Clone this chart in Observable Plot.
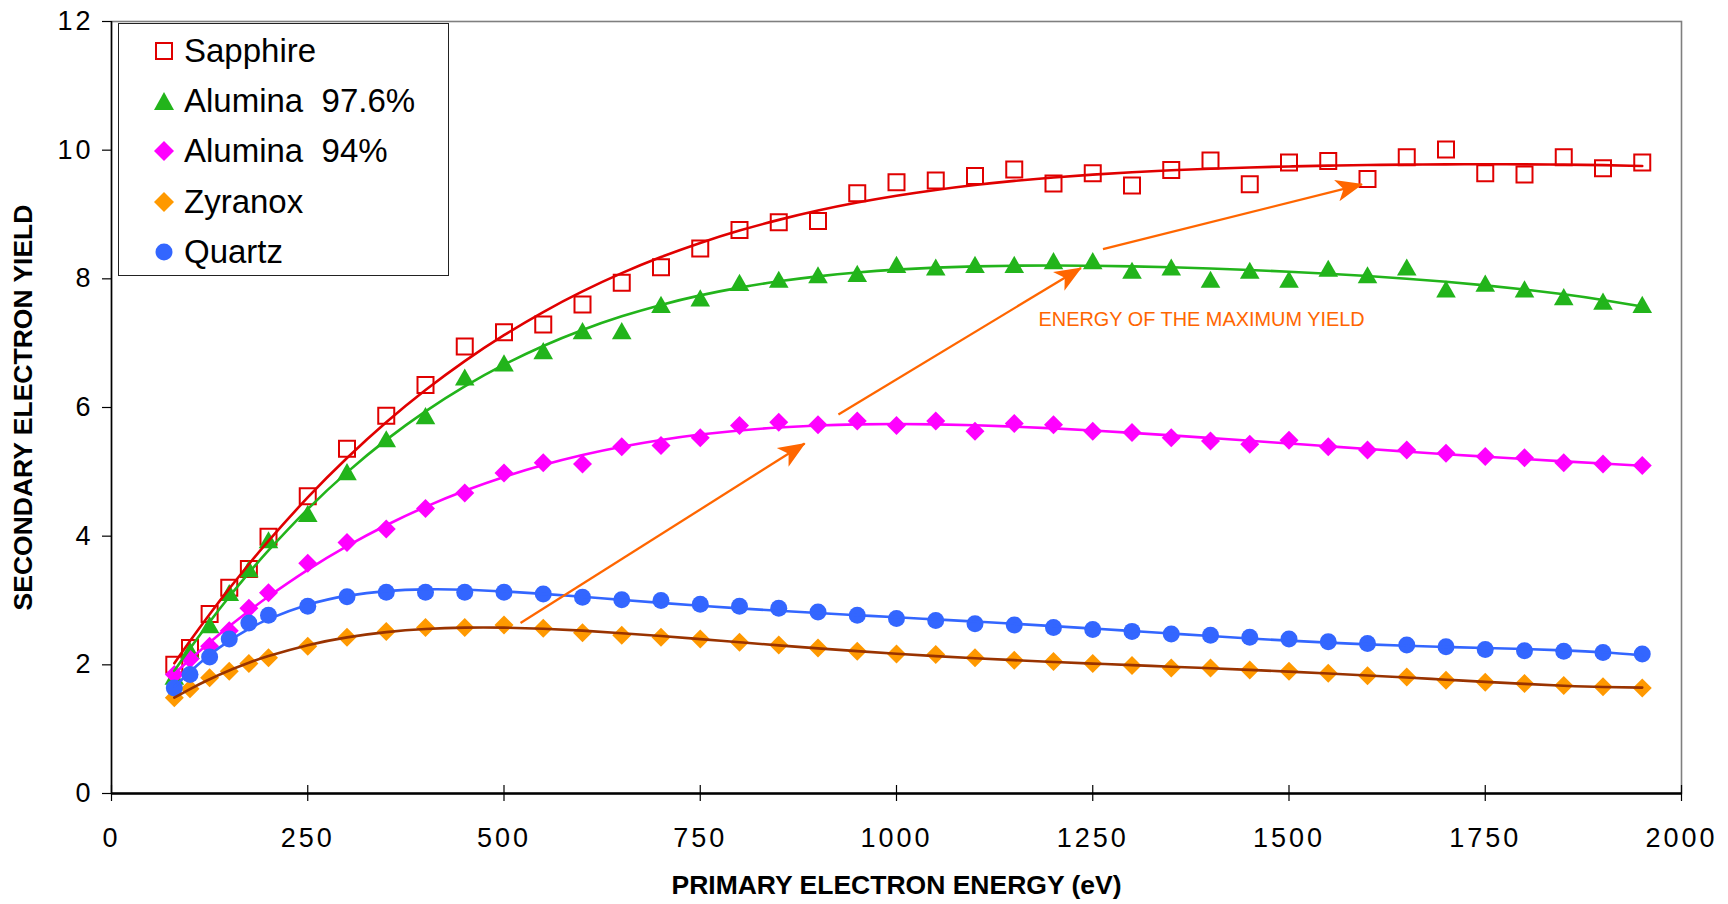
<!DOCTYPE html>
<html>
<head>
<meta charset="utf-8">
<script src="https://cdn.jsdelivr.net/npm/d3@7"></script>
<script src="https://cdn.jsdelivr.net/npm/@observablehq/plot@0.6"></script>
<style>
  body { margin: 0; background: #fff; }
  #wrap { position: relative; width: 1728px; height: 904px; font-family: "Liberation Sans", Arial, sans-serif; }
  #legend { position: absolute; left: 118px; top: 23px; width: 331px; height: 253px; border: 1.5px solid #222; background: #fff; box-sizing: border-box; }
  .row { position: absolute; left: 0; height: 50px; line-height: 50px; font-size: 33px; color: #000; white-space: pre; }
  .row svg { position: absolute; left: 33px; top: 13px; }
  .row span { position: absolute; left: 65px; top: 0; }
</style>
</head>
<body>
<div id="wrap"></div>
<script>
// ---------- data ----------
const energy = [80,100,125,150,175,200,250,300,350,400,450,500,550,600,650,700,750,800,850,900,950,1000,
  1050,1100,1150,1200,1250,1300,1350,1400,1450,1500,1550,1600,1650,1700,1750,1800,1850,1900,1950];

const sapphire = [2.0,2.26,2.79,3.2,3.49,3.99,4.62,5.36,5.87,6.35,6.95,7.17,7.29,7.6,7.94,8.18,8.47,8.76,8.88,8.9,
  9.33,9.5,9.53,9.6,9.7,9.48,9.64,9.45,9.69,9.84,9.47,9.81,9.83,9.55,9.89,10.01,9.64,9.62,9.89,9.72,9.81];

const alumina976 = [1.82,2.22,2.62,3.12,3.49,3.94,4.35,5.0,5.51,5.87,6.47,6.69,6.88,7.19,7.19,7.6,7.7,7.94,7.99,8.06,
  8.08,8.22,8.18,8.22,8.22,8.28,8.28,8.13,8.18,7.99,8.13,7.99,8.16,8.06,8.18,7.84,7.93,7.84,7.72,7.65,7.6];

const alumina94 = [1.85,2.09,2.29,2.53,2.88,3.12,3.58,3.9,4.11,4.43,4.67,4.98,5.14,5.12,5.39,5.41,5.53,5.72,5.77,5.73,
  5.79,5.72,5.79,5.63,5.75,5.73,5.63,5.61,5.53,5.48,5.43,5.49,5.39,5.34,5.34,5.29,5.24,5.22,5.14,5.12,5.1];

const zyranox = [1.49,1.63,1.8,1.9,2.02,2.11,2.29,2.43,2.52,2.58,2.58,2.62,2.57,2.5,2.46,2.43,2.4,2.35,2.31,2.26,
  2.21,2.17,2.16,2.11,2.07,2.05,2.02,1.99,1.95,1.95,1.92,1.9,1.87,1.83,1.81,1.76,1.73,1.71,1.68,1.66,1.64];

const quartz = [1.64,1.85,2.12,2.4,2.65,2.77,2.91,3.06,3.13,3.13,3.13,3.13,3.1,3.05,3.01,3.0,2.94,2.91,2.88,2.82,
  2.77,2.72,2.69,2.64,2.62,2.58,2.55,2.52,2.48,2.46,2.43,2.4,2.36,2.33,2.31,2.28,2.24,2.22,2.21,2.19,2.17];

const seriesNames = ["Sapphire", "Alumina  97.6%", "Alumina  94%", "Zyranox", "Quartz"];
const seriesValues = [sapphire, alumina976, alumina94, zyranox, quartz];
const trendOrder = [4, 4, 4, 6, 6];
const markerColors = ["#e00000", "#22b41b", "#ff00ff", "#ff9900", "#3366ff"];
const lineColors = ["#e00000", "#22b41b", "#ff00ff", "#993300", "#3366ff"];

const xTicks = [0,250,500,750,1000,1250,1500,1750,2000];
const yTicks = [0,2,4,6,8,10,12];

// annotation arrows (data coordinates)
const arrowX1 = [521, 926, 1263];
const arrowY1 = [2.65, 5.89, 8.46];
const arrowX2 = [883, 1235, 1593];
const arrowY2 = [5.44, 8.17, 9.47];
const annoText = ["ENERGY OF THE MAXIMUM YIELD"];
const annoX = [1181];
const annoY = [7.36];

const xTitle = "PRIMARY ELECTRON ENERGY (eV)";
const yTitle = "SECONDARY ELECTRON YIELD";

// ---------- polynomial trend (least squares, like a spreadsheet trendline) ----------
function polyfit(xs, ys, deg) {
  const n = deg + 1;
  const M = Array.from({length: n}, () => new Array(n + 1).fill(0));
  xs.forEach((x, i) => {
    const t = x / 1000;
    const p = [];
    for (let k = 0; k < 2 * n; k++) p.push(Math.pow(t, k));
    for (let r = 0; r < n; r++) {
      for (let c = 0; c < n; c++) M[r][c] += p[r + c];
      M[r][n] += ys[i] * p[r];
    }
  });
  for (let c = 0; c < n; c++) {
    let piv = c;
    for (let r = c + 1; r < n; r++) if (Math.abs(M[r][c]) > Math.abs(M[piv][c])) piv = r;
    [M[c], M[piv]] = [M[piv], M[c]];
    for (let r = 0; r < n; r++) {
      if (r === c) continue;
      const f = M[r][c] / M[c][c];
      for (let k = c; k <= n; k++) M[r][k] -= f * M[c][k];
    }
  }
  const coef = M.map((row, i) => row[n] / row[i]);
  return x => { const t = x / 1000; return coef.reduce((s, a, k) => s + a * Math.pow(t, k), 0); };
}

// ---------- tables ----------
const points = [];
const trends = [];
seriesNames.forEach((name, s) => {
  const f = polyfit(energy, seriesValues[s], trendOrder[s]);
  energy.forEach((x, i) => {
    points.push({series: name, x, y: seriesValues[s][i]});
    trends.push({series: name, x, y: f(x)});
  });
});
const arrows = arrowX1.map((x, i) => ({x1: x, y1: arrowY1[i], x2: arrowX2[i], y2: arrowY2[i]}));
const annos = annoText.map((t, i) => ({text: t, x: annoX[i], y: annoY[i]}));

// ---------- symbols ----------
const sym = (fn) => ({draw(ctx, size) { fn(ctx, Math.sqrt(size / Math.PI)); }});
const squareSym = sym((c, r) => { c.moveTo(-r, -r); c.lineTo(r, -r); c.lineTo(r, r); c.lineTo(-r, r); c.closePath(); });
const triSym = sym((c, r) => { c.moveTo(0, -0.9 * r); c.lineTo(r, 0.85 * r); c.lineTo(-r, 0.85 * r); c.closePath(); });
const diaSym = sym((c, r) => { c.moveTo(0, -r); c.lineTo(r, 0); c.lineTo(0, r); c.lineTo(-r, 0); c.closePath(); });

const markerOpts = [
  {symbol: squareSym, r: 8, fill: "white", fillOpacity: 0, stroke: markerColors[0], strokeWidth: 2},
  {symbol: triSym, r: 9.8, fill: markerColors[1]},
  {symbol: diaSym, r: 9.5, fill: markerColors[2]},
  {symbol: diaSym, r: 9.5, fill: markerColors[3]},
  {symbol: "circle", r: 8.5, fill: markerColors[4]}
];

const dotMarks = seriesNames.map((name, s) =>
  Plot.dot(points.filter(d => d.series === name), {x: "x", y: "y", ...markerOpts[s]}));
const lineMarks = seriesNames.map((name, s) =>
  Plot.line(trends.filter(d => d.series === name), {x: "x", y: "y", stroke: lineColors[s], strokeWidth: 2.6, curve: "natural"}));

const chart = Plot.plot({
  width: 1728, height: 904,
  marginLeft: 111, marginRight: 47, marginTop: 21, marginBottom: 111,
  x: {domain: [0, 2000]},
  y: {domain: [0, 12]},
  style: {fontFamily: '"Liberation Sans", Arial, sans-serif', background: "white", color: "black"},
  marks: [
    Plot.frame({stroke: "#7f7f7f", strokeWidth: 1.6}),
    Plot.axisY({ticks: yTicks, tickSize: 9, tickPadding: 9, fontSize: 27, stroke: "black", strokeWidth: 1.2,
      label: yTitle, labelAnchor: "center", labelOffset: 98, labelArrow: "none"}),
    Plot.axisX({ticks: xTicks, tickSize: 16, dy: -8, tickPadding: 26, fontSize: 27, tickFormat: d3.format("d"),
      label: null, stroke: "black", strokeWidth: 1.2}),
    Plot.ruleX([0], {stroke: "black", strokeWidth: 1.5}),
    Plot.ruleY([0], {stroke: "black", strokeWidth: 2.4}),
    ...dotMarks,
    ...lineMarks,
    Plot.link(arrows, {x1: "x1", y1: "y1", x2: "x2", y2: "y2", stroke: "#ff6600", strokeWidth: 2.3}),
    Plot.text(annos, {x: "x", y: "y", text: "text", textAnchor: "start", fill: "#ff6600", fontSize: 19.9}),
    Plot.text([xTitle], {frameAnchor: "bottom", dy: 100, text: d => d, fontSize: 26.5, fontWeight: "bold", fill: "black"})
  ]
});

const svg = d3.select(chart);
svg.selectAll('g[aria-label="x-axis tick label"] text, g[aria-label="y-axis tick label"] text').attr("letter-spacing", "3px");
svg.selectAll('g[aria-label="y-axis label"]').attr("font-size", 26.5).attr("font-weight", "bold");
svg.selectAll('g[aria-label="y-axis label"] text').attr("font-size", 26.5).attr("font-weight", "bold");
const defs = svg.insert("defs", ":first-child");
defs.append("marker")
  .attr("id", "ah").attr("markerUnits", "userSpaceOnUse")
  .attr("viewBox", "0 0 28 24").attr("markerWidth", 28).attr("markerHeight", 24)
  .attr("refX", 26).attr("refY", 12).attr("orient", "auto")
  .append("path").attr("d", "M0,1 L27,12 L0,23 L7,12 Z").attr("fill", "#ff6600");
svg.selectAll('g[aria-label="link"] path').attr("marker-end", "url(#ah)");

const wrap = document.getElementById("wrap");
wrap.appendChild(chart);

// legend (inside plot area, as in the reference)
const swatches = [
  '<svg width="24" height="24"><rect x="4" y="4" width="16" height="16" fill="white" stroke="#e00000" stroke-width="2"/></svg>',
  '<svg width="24" height="24"><path d="M12,3 L22,21 L2,21 Z" fill="#22b41b"/></svg>',
  '<svg width="24" height="24"><path d="M12,2 L22,12 L12,22 L2,12 Z" fill="#ff00ff"/></svg>',
  '<svg width="24" height="24"><path d="M12,2 L22,12 L12,22 L2,12 Z" fill="#ff9900"/></svg>',
  '<svg width="24" height="24"><circle cx="12" cy="12" r="8.5" fill="#3366ff"/></svg>'
];
const legend = document.createElement("div");
legend.id = "legend";
seriesNames.forEach((name, i) => {
  const row = document.createElement("div");
  row.className = "row";
  row.style.top = (1.6 + i * 50.4) + "px";
  row.innerHTML = swatches[i] + "<span></span>";
  row.querySelector("span").textContent = name;
  legend.appendChild(row);
});
wrap.appendChild(legend);
</script>
</body>
</html>
